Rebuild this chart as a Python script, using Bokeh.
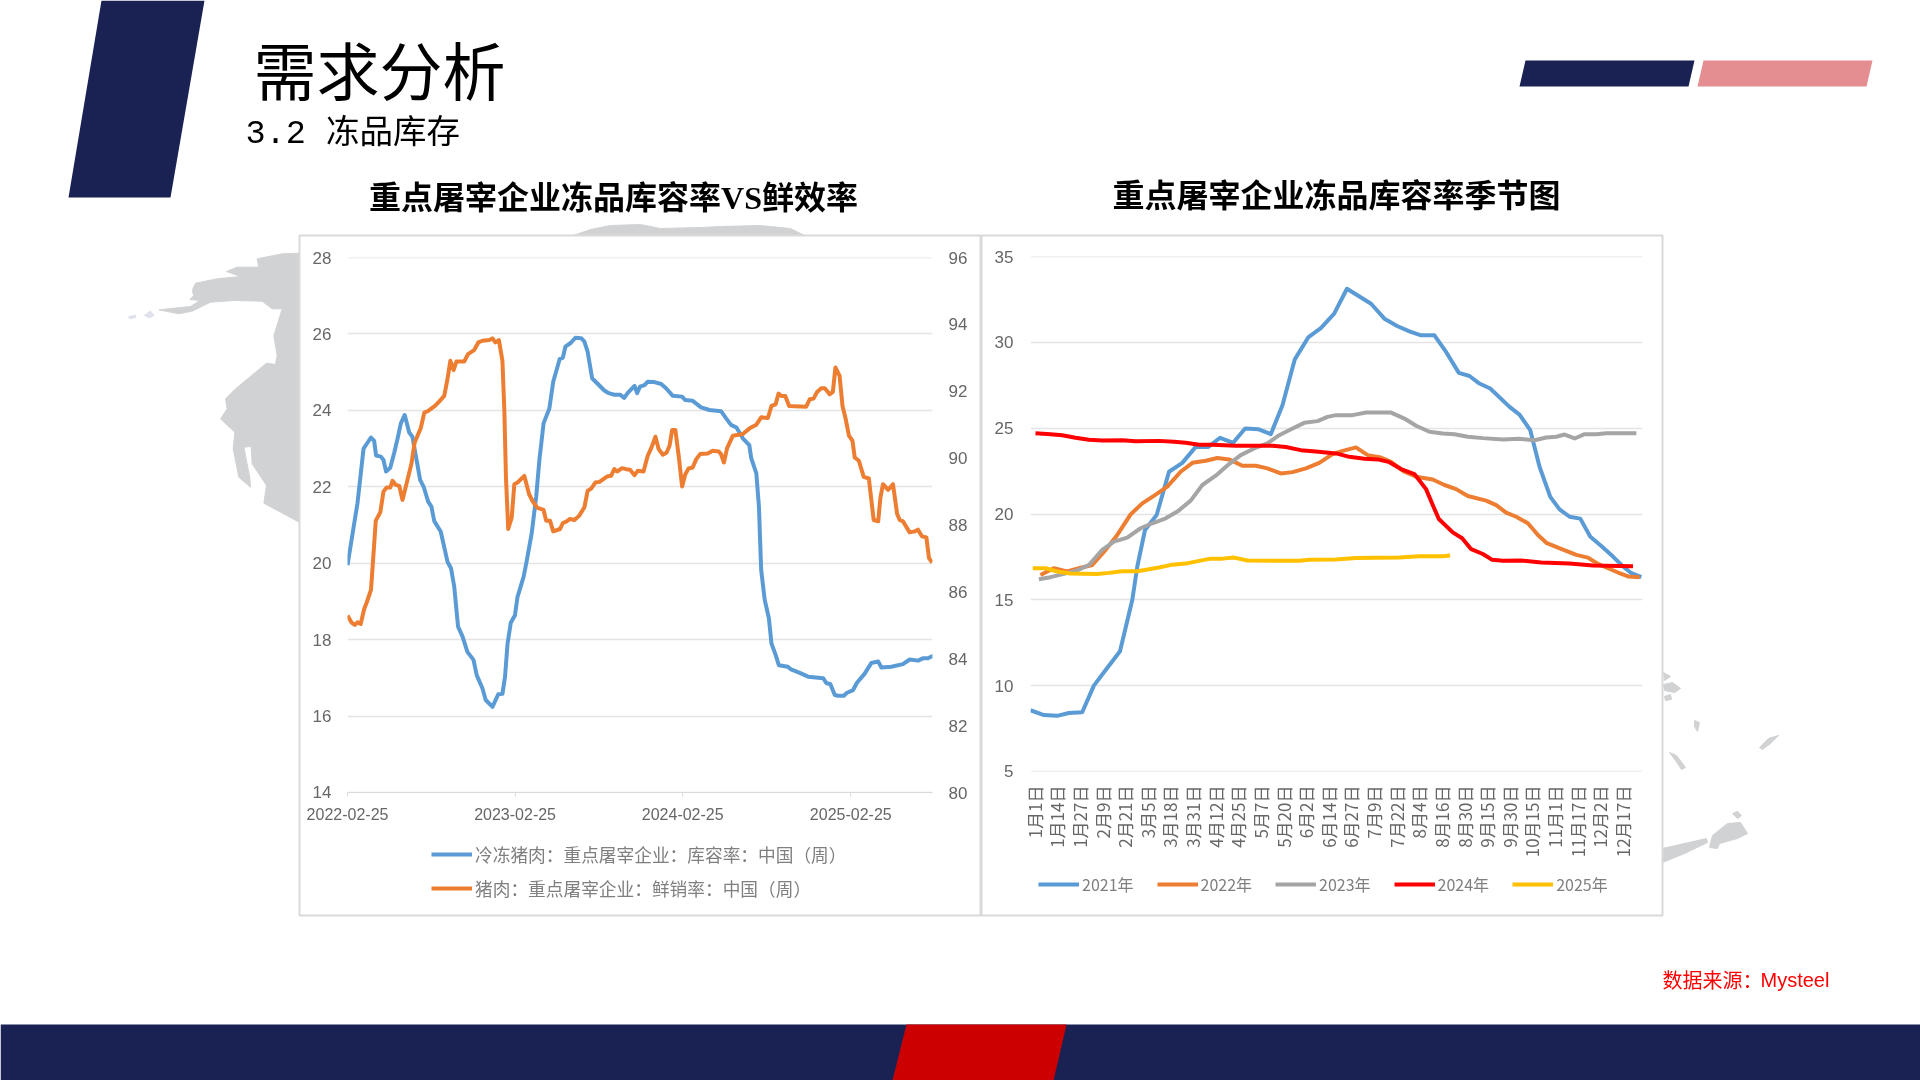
import math
import pandas as pd
from bokeh.core.properties import value
from bokeh.embed import file_html
from bokeh.layouts import column
from bokeh.models import FixedTicker, Legend, LegendItem, LinearAxis, Range1d
from bokeh.plotting import figure
from bokeh.resources import INLINE

# ---------- left chart data (x = weeks since 2022-02-25) ----------
stock_weeks = [0, 3.1, 5, 7.3, 8.3, 8.9, 10.4, 11.2, 12, 13.3, 14.5, 15.6, 16.6, 17.8, 19.2, 20.2, 21.3, 22.6, 23.7,
               25.1, 26.1, 27, 29, 31.1, 32.2, 33.2, 34.4, 35.8, 37.3, 39.2, 40.2, 42, 43, 45.1, 46.9, 48.2, 49, 49.8,
               50.8, 52.1, 52.9, 54.8, 55.8, 57.3, 58.7, 59.7, 61, 62.8, 64, 66, 67, 67.8, 69.5, 70.9, 72.7, 73.7,
               74.7, 76.1, 77.9, 79.9, 81.3, 83, 84.8, 86.1, 87.2, 89.3, 90.1, 91, 92.4, 93.4, 95.5, 97.6, 99.1, 101.2,
               104.1, 105.1, 107.4, 110, 112.6, 116.2, 117.8, 119.3, 121, 123, 125, 125.6, 127.2, 128, 128.7, 129.8,
               131.1, 131.9, 133.2, 134.2, 137, 138, 140.7, 143.3, 148, 149, 150.2, 151.6, 152.6, 154.4, 155.4, 157.3,
               158.5, 160.9, 163, 165.1, 166.1, 169.2, 172.8, 174.9, 177.5, 179, 180.6, 182.2]
stock_rate = [19.95, 21.57, 23.0, 23.29, 23.2, 22.82, 22.79, 22.7, 22.4, 22.5, 22.88, 23.27, 23.66, 23.88, 23.42, 23.31,
              22.79, 22.18, 22.0, 21.61, 21.48, 21.1, 20.83, 20.04, 19.87, 19.39, 18.34, 18.08, 17.68, 17.47, 17.07,
              16.72, 16.42, 16.24, 16.57, 16.58, 17.02, 17.9, 18.44, 18.64, 19.12, 19.65, 20.08, 20.78, 21.74, 22.7,
              23.66, 24.05, 24.75, 25.34, 25.38, 25.67, 25.77, 25.9, 25.89, 25.8, 25.54, 24.84, 24.69, 24.52, 24.45,
              24.41, 24.41, 24.33, 24.46, 24.64, 24.45, 24.62, 24.66, 24.75, 24.74, 24.69, 24.58, 24.38, 24.36, 24.27,
              24.25, 24.08, 24.01, 23.98, 23.79, 23.62, 23.55, 23.27, 23.09, 22.75, 22.35, 21.48, 19.82, 19.04, 18.56,
              17.9, 17.6, 17.33, 17.29, 17.22, 17.13, 17.03, 16.99, 16.86, 16.84, 16.55, 16.53, 16.53, 16.61, 16.68,
              16.87, 17.11, 17.39, 17.43, 17.27, 17.29, 17.36, 17.48, 17.45, 17.51, 17.51, 17.58]
fresh_weeks = [0, 1.2, 2.3, 3.1, 4.1, 5.2, 6, 7.3, 7.8, 8.8, 10.2, 11.2, 12.2, 13.3, 14, 15, 16.1, 17.1, 18.2, 19.9,
               20.9, 22.8, 23.9, 25.1, 27.2, 28.5, 30.1, 31.1, 32, 33, 33.9, 36.3, 37.5, 39.4, 40.7, 42, 44.1, 45.1, 46,
               47.1, 48.2, 48.8, 49.3, 50, 51.1, 51.9, 52.9, 55, 56.5, 57.6, 59.1, 61, 61.8, 63, 64, 66.1, 67, 68.2,
               69.2, 70.6, 72.1, 73.7, 74.7, 75.8, 77.1, 78.4, 80.7, 82, 83, 83.9, 85.4, 86.7, 87.9, 89.3, 90.3, 92.1,
               93.4, 94.5, 95.8, 96.8, 98.1, 99.3, 100.2, 101, 102, 103.1, 104.1, 105.1, 106.1, 107.4, 108.5, 109.7,
               112.1, 113.6, 115.5, 116.2, 117.1, 118.1, 119.9, 123, 125.1, 127.2, 128.7, 130.8, 131.9, 133.2, 134.1,
               135, 136.2, 137.4, 142.7, 143.8, 145, 146.1, 147.4, 148.5, 150, 151, 151.8, 153.1, 154, 155, 156, 157.1,
               157.8, 159.1, 160.6, 162.2, 163.7, 165.1, 165.8, 166.6, 168.2, 169.7, 171, 171.8, 172.8, 174.9, 176.5,
               177.5, 178.7, 180.1, 180.9, 181.9]
fresh_rate = [85.29, 85.09, 85.01, 85.09, 85.04, 85.49, 85.69, 86.06, 86.73, 88.13, 88.38, 89.0, 89.12, 89.12, 89.32,
              89.2, 89.17, 88.75, 89.17, 89.84, 90.47, 90.9, 91.36, 91.41, 91.56, 91.69, 91.86, 92.36, 92.91, 92.63,
              92.89, 92.89, 93.11, 93.23, 93.46, 93.51, 93.53, 93.58, 93.46, 93.53, 92.91, 91.41, 89.42, 87.88, 88.23,
              89.22, 89.27, 89.47, 88.92, 88.71, 88.51, 88.45, 88.13, 88.13, 87.81, 87.88, 88.06, 88.11, 88.18, 88.15,
              88.28, 88.53, 89.02, 89.09, 89.27, 89.29, 89.45, 89.47, 89.67, 89.6, 89.7, 89.67, 89.65, 89.49, 89.62,
              89.6, 90.07, 90.3, 90.64, 90.27, 90.1, 90.17, 90.37, 90.84, 90.84, 90.02, 89.15, 89.52, 89.69, 89.72,
              89.97, 90.12, 90.14, 90.22, 90.2, 90.12, 89.87, 90.3, 90.67, 90.72, 90.89, 91.0, 91.22, 91.2, 91.56,
              91.61, 91.93, 91.86, 91.86, 91.56, 91.54, 91.76, 91.78, 91.98, 92.09, 92.09, 91.91, 91.98, 92.71, 92.46,
              91.56, 91.17, 90.67, 90.52, 90.02, 89.92, 89.44, 89.39, 88.15, 88.11, 88.82, 89.22, 89.05, 89.22, 88.33,
              88.15, 88.11, 87.78, 87.81, 87.86, 87.66, 87.63, 87.01, 86.88]
left_ticks = ['2022-02-25', '2023-02-25', '2024-02-25', '2025-02-25']
left_names = ['冷冻猪肉：重点屠宰企业：库容率：中国（周）', '猪肉：重点屠宰企业：鲜销率：中国（周）']

# ---------- right chart data (x = slot along the category axis) ----------
season_labels = ['1月1日', '1月14日', '1月27日', '2月9日', '2月21日', '3月5日', '3月18日', '3月31日', '4月12日', '4月25日',
                 '5月7日', '5月20日', '6月2日', '6月14日', '6月27日', '7月9日', '7月22日', '8月4日', '8月16日', '8月30日',
                 '9月15日', '9月30日', '10月15日', '11月1日', '11月17日', '12月2日', '12月17日']
season_names = ['2021年', '2022年', '2023年', '2024年', '2025年']
x2021 = [0, 1.18, 2.36, 3.39, 4.57, 5.6, 6.78, 7.91, 9.0, 9.44, 10.12, 11.15, 12.24, 13.42, 14.6, 15.72, 16.76, 17.91,
         18.97, 20.12, 21.24, 22.27, 23.36, 24.57, 25.66, 26.84, 27.97, 30.1, 31.28, 32.4, 33.49, 34.52, 35.7, 36.73,
         37.86, 38.8, 39.68, 40.63, 42.34, 43.22, 44.17, 44.99, 45.94, 46.76, 47.65, 48.59, 49.48, 50.45, 51.48, 52.37,
         53.11, 53.99]
y2021 = [8.57, 8.29, 8.24, 8.41, 8.45, 10.0, 11.03, 12.0, 15.0, 16.94, 19.07, 19.94, 22.46, 22.98, 23.91, 23.91, 24.44,
         24.15, 24.98, 24.94, 24.65, 26.34, 29.01, 30.31, 30.83, 31.67, 33.12, 32.25, 31.38, 30.95, 30.64, 30.41, 30.41,
         29.44, 28.22, 28.04, 27.6, 27.31, 26.24, 25.79, 24.88, 22.75, 21.0, 20.27, 19.84, 19.73, 18.68, 18.14, 17.52,
         16.94, 16.55, 16.32]
x2022 = [0.88, 2.06, 3.24, 4.28, 5.46, 6.64, 7.67, 8.85, 9.88, 11.0, 12.09, 13.27, 14.31, 15.49, 16.52, 17.55, 18.73,
         19.91, 20.94, 22.12, 23.16, 24.34, 25.52, 26.7, 27.59, 28.77, 29.8, 30.98, 31.87, 33.05, 34.08, 35.55, 36.59,
         37.62, 38.65, 40.27, 41.16, 42.04, 42.93, 43.96, 44.85, 45.64, 46.62, 48.24, 49.27, 50.16, 51.04, 51.93, 52.81,
         53.84]
y2022 = [16.45, 16.84, 16.65, 16.84, 17.03, 17.91, 18.78, 19.98, 20.62, 21.1, 21.59, 22.46, 22.98, 23.1, 23.26, 23.18,
         22.81, 22.81, 22.66, 22.36, 22.44, 22.66, 22.98, 23.49, 23.68, 23.88, 23.43, 23.29, 23.04, 22.46, 22.17, 22.01,
         21.69, 21.45, 21.05, 20.78, 20.52, 20.08, 19.84, 19.46, 18.78, 18.3, 18.04, 17.62, 17.46, 17.09, 16.84, 16.59,
         16.36, 16.32]
x2023 = [0.74, 1.77, 2.95, 4.13, 5.16, 6.34, 7.37, 8.55, 9.73, 10.77, 11.95, 12.98, 14.16, 15.19, 16.37, 17.55, 18.58,
         19.76, 20.94, 21.98, 23.16, 24.19, 25.37, 26.25, 27.0, 28.47, 29.65, 31.87, 33.05, 34.08, 35.26, 36.44, 37.47,
         38.65, 39.98, 41.75, 43.22, 44.55, 45.58, 46.47, 47.21, 48.09, 48.98, 50.0, 50.89, 53.55]
y2023 = [16.2, 16.32, 16.51, 16.71, 17.03, 17.91, 18.39, 18.62, 19.17, 19.46, 19.75, 20.14, 20.78, 21.69, 22.23, 22.91,
         23.43, 23.82, 24.11, 24.59, 24.98, 25.31, 25.41, 25.66, 25.76, 25.76, 25.91, 25.91, 25.56, 25.14, 24.79, 24.69,
         24.65, 24.5, 24.42, 24.34, 24.38, 24.3, 24.46, 24.5, 24.63, 24.4, 24.65, 24.65, 24.71, 24.71]
x2024 = [0.44, 1.77, 2.8, 3.98, 5.16, 6.34, 8.11, 9.29, 11.36, 12.68, 13.72, 14.9, 16.08, 18.14, 21.39, 22.57, 23.89,
         25.22, 27.0, 28.18, 29.51, 30.69, 31.72, 32.75, 33.93, 34.96, 35.55, 36.09, 37.32, 38.15, 38.95, 39.98, 40.81,
         41.75, 43.37, 45.14, 47.65, 49.71, 53.25]
y2024 = [24.71, 24.65, 24.59, 24.44, 24.32, 24.28, 24.3, 24.24, 24.26, 24.21, 24.15, 24.03, 24.03, 23.97, 23.97, 23.9,
         23.72, 23.64, 23.53, 23.33, 23.22, 23.18, 23.02, 22.62, 22.33, 21.45, 20.52, 19.71, 18.93, 18.59, 17.95, 17.67,
         17.33, 17.27, 17.29, 17.17, 17.11, 17.0, 16.96]
x2025 = [0.2, 1.33, 2.36, 3.54, 5.9, 6.93, 8.11, 9.44, 11.36, 12.54, 13.72, 14.9, 15.93, 16.96, 17.99, 19.17, 23.75,
         24.63, 27.0, 28.77, 32.6, 34.37, 36.44, 37.09]
y2025 = [16.84, 16.84, 16.65, 16.53, 16.51, 16.57, 16.67, 16.67, 16.88, 17.05, 17.11, 17.27, 17.4, 17.4, 17.46, 17.29,
         17.27, 17.33, 17.35, 17.44, 17.46, 17.54, 17.54, 17.58]

NAVY = '#1a2153'
MAP = '#d1d2d4'
GRID = '#e4e4e4'
TICK_TEXT = '#666666'
LEGEND_TEXT = '#7f7f7f'
CJK = 'Noto Sans CJK SC'
BLUE = '#5b9bd5'
ORANGE = '#ed7d31'
season_colors = [BLUE, ORANGE, '#a5a5a5', '#ff0000', '#ffc000']


def place(fig, left, top):
    fig.styles = {'position': 'fixed', 'left': f'{left}px', 'top': f'{top}px'}


# ---------- slide background, in reference pixels ----------
bg = figure(width=1920, height=1080, x_range=(0, 1920), y_range=(1080, 0), output_backend='svg', toolbar_location=None,
            x_axis_location=None, y_axis_location=None, min_border=0, outline_line_color=None, frame_align=False)
bg.grid.visible = False
place(bg, 0, 0)

west_zoom = [(596, 98), (545, 100), (470, 115), (475, 140), (410, 140), (378, 153), (420, 168), (350, 175), (285, 188),
             (275, 210), (280, 225), (268, 237), (298, 240), (270, 258), (175, 268), (235, 280), (275, 272), (330, 245),
             (400, 240), (485, 242), (515, 265), (545, 265), (520, 345), (530, 405), (525, 432), (498, 428), (405, 505),
             (375, 535), (380, 565), (360, 595), (403, 635), (398, 685), (415, 770), (450, 800), (448, 772), (430, 680),
             (452, 678), (455, 730), (498, 795), (490, 848), (596, 905)]
map_shapes = [
    [(100 + a / 3, 220 + b / 3) for a, b in west_zoom],
    [(570, 236), (590, 229), (610, 225), (640, 224), (660, 228), (700, 227), (720, 226), (760, 225), (790, 228), (806, 236)],
    [(1662, 848), (1706, 838), (1707, 842), (1684, 853), (1662, 862)],
    [(1709, 847), (1712, 835), (1727, 823), (1740, 822), (1747, 833), (1737, 838), (1719, 843), (1717, 848)],
    [(1732, 813), (1737, 811), (1741, 815), (1737, 818)],
    [(1669, 752), (1676, 755), (1685, 767), (1681, 769), (1675, 760)],
    [(1759, 747), (1768, 738), (1778, 735), (1770, 743), (1762, 749)],
    [(1663, 672), (1670, 676), (1664, 680)],
    [(1663, 684), (1672, 682), (1680, 688), (1674, 692), (1664, 690)],
    [(1664, 696), (1670, 694), (1671, 699), (1665, 700)],
    [(1694, 720), (1699, 722), (1697, 731), (1694, 726)],
]
bg.patches([[p[0] for p in s] for s in map_shapes], [[p[1] for p in s] for s in map_shapes], fill_color=MAP, line_color=MAP)
bg.patches([[127, 135, 136, 130], [143, 150, 154, 149]], [[316, 314, 317, 319], [315, 310, 315, 318]],
           fill_color='#e0e1ee', line_color=None)

bg.quad(left=[299, 981], right=[980, 1662], top=[235, 235], bottom=[915, 915], fill_color='white', line_color='#d9d9d9',
        line_width=2)

bg.patch([101, 204, 170, 68], [0, 0, 197, 197], fill_color=NAVY, line_color=None)
bg.patch([1525, 1694, 1688, 1519], [60, 60, 86, 86], fill_color=NAVY, line_color=None)
bg.patch([1703, 1872, 1866, 1697], [60, 60, 86, 86], fill_color='#e48e91', line_color=None)
bg.quad(left=[0], right=[1920], top=[1024], bottom=[1080], fill_color=NAVY, line_color=None)
bg.patch([906, 1066, 1053, 892], [1024, 1024, 1080, 1080], fill_color='#cc0000', line_color=None)


def slide_text(x, y, text, size, color='black', font=CJK, style='normal', align='left'):
    bg.text([x], [y], text=[text], text_font=value(font), text_font_size=f'{size}px', text_font_style=style,
            text_color=color, text_align=align, text_baseline='middle')


slide_text(253, 67, '需求分析', 63)
slide_text(245, 133, '3.2 冻品库存', 33.5, font=f'Liberation Mono, {CJK}')
slide_text(613, 197, '重点屠宰企业冻品库容率VS鲜效率', 32, font=f'Liberation Serif, {CJK}', style='bold', align='center')
slide_text(1336, 192, '重点屠宰企业冻品库容率季节图', 32, style='bold', align='center')
slide_text(1662, 979, '数据来源：', 20, color='#ff0000')
slide_text(1760, 979, 'Mysteel', 20, color='#ff0000', font='Liberation Sans')


# legends go on the slide figure, the chart frames would clip them below the axis.
# their key lines sit outside the visible range, an empty line gets no key drawn
def slide_legend(names, colors, x, y, orientation, size, spacing):
    items = [LegendItem(label=n, renderers=[bg.line([-20, -10], [-20, -10], line_color=c, line_width=4)])
             for n, c in zip(names, colors)]
    bg.add_layout(Legend(items=items, location=(x, y), orientation=orientation, background_fill_alpha=0,
                         border_line_color=None, padding=0, margin=0, spacing=spacing, glyph_width=41, label_standoff=3,
                         label_text_font=CJK, label_text_font_size=f'{size}px', label_text_color=LEGEND_TEXT))


slide_legend(left_names, [BLUE, ORANGE], 431, 179, 'vertical', 17.7, 8)
slide_legend(season_names, season_colors, 1038, 184, 'horizontal', 16, 23)

# ---------- left chart ----------
start = pd.Timestamp(left_ticks[0])
left = figure(width=680, height=678, x_axis_type='datetime', output_backend='svg', toolbar_location=None,
              x_range=Range1d(start, start + pd.Timedelta(days=1274)), y_range=Range1d(13.999, 28.001),
              min_border_left=47, min_border_right=48, min_border_top=21, min_border_bottom=122, frame_align=False,
              background_fill_alpha=0, border_fill_alpha=0, outline_line_color=None)
place(left, 300, 236)
left.extra_y_ranges = {'fresh': Range1d(80, 96)}
left.add_layout(LinearAxis(y_range_name='fresh', ticker=FixedTicker(ticks=list(range(80, 97, 2)))), 'right')

tick_ms = [pd.Timestamp(t).timestamp() * 1000 for t in left_ticks]
left.xaxis.ticker = FixedTicker(ticks=tick_ms)
left.xaxis.major_label_overrides = dict(zip(tick_ms, left_ticks))
left.yaxis[0].ticker = FixedTicker(ticks=list(range(14, 29, 2)))
left.xgrid.visible = False
left.ygrid.grid_line_color = GRID
left.ygrid.grid_line_width = 1.5
for ax in left.yaxis:
    ax.axis_line_color = None
    ax.major_tick_line_color = None
    ax.minor_tick_line_color = None
    ax.major_label_text_font = 'Liberation Sans'
    ax.major_label_text_font_size = '17px'
    ax.major_label_text_color = TICK_TEXT
left.yaxis[0].major_label_standoff = 10
left.yaxis[1].major_label_standoff = 10
left.xaxis.axis_line_color = '#d9d9d9'
left.xaxis.major_tick_line_color = '#d9d9d9'
left.xaxis.major_tick_in = 0
left.xaxis.major_tick_out = 4
left.xaxis.minor_tick_line_color = None
left.xaxis.major_label_standoff = 11
left.xaxis.major_label_text_font = 'Liberation Sans'
left.xaxis.major_label_text_font_size = '16px'
left.xaxis.major_label_text_color = TICK_TEXT

left.line([start + pd.Timedelta(days=w * 7) for w in stock_weeks], stock_rate, line_color=BLUE, line_width=4,
          line_join='round')
left.line([start + pd.Timedelta(days=w * 7) for w in fresh_weeks], fresh_rate, line_color=ORANGE, line_width=4,
          line_join='round', y_range_name='fresh')

# ---------- right chart ----------
right = figure(width=680, height=678, output_backend='svg', toolbar_location=None, x_range=Range1d(0, 54.09),
               y_range=Range1d(4.999, 35.001), min_border_left=48, min_border_right=20, min_border_top=20,
               min_border_bottom=143, frame_align=False,
               background_fill_alpha=0, border_fill_alpha=0, outline_line_color=None)
place(right, 982, 236)
season_ticks = [0.32 + 2 * i for i in range(len(season_labels))]
right.xaxis.ticker = FixedTicker(ticks=season_ticks)
right.xaxis.major_label_overrides = dict(zip(season_ticks, season_labels))
right.xaxis.major_label_orientation = math.pi / 2
right.xaxis.major_label_standoff = 8
right.xaxis.major_label_text_font = CJK
right.xaxis.major_label_text_font_size = '17px'
right.xaxis.major_label_text_color = TICK_TEXT
right.xaxis.axis_line_color = None
right.xaxis.major_tick_line_color = None
right.xaxis.minor_tick_line_color = None
right.yaxis.ticker = FixedTicker(ticks=list(range(5, 36, 5)))
right.yaxis.axis_line_color = None
right.yaxis.major_tick_line_color = None
right.yaxis.minor_tick_line_color = None
right.yaxis.major_label_standoff = 11
right.yaxis.major_label_text_font = 'Liberation Sans'
right.yaxis.major_label_text_font_size = '17px'
right.yaxis.major_label_text_color = TICK_TEXT
right.xgrid.visible = False
right.ygrid.grid_line_color = GRID
right.ygrid.grid_line_width = 1.5

for xs, ys, color in zip([x2021, x2022, x2023, x2024, x2025], [y2021, y2022, y2023, y2024, y2025], season_colors):
    right.line(xs, ys, line_color=color, line_width=4, line_join='round')

page = column(bg, left, right)
open('out.html', 'w').write(file_html(page, INLINE))
